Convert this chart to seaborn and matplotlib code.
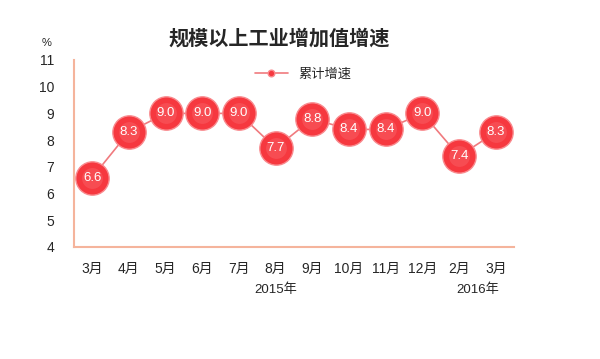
import pandas as pd
import seaborn as sns
import matplotlib.pyplot as plt

# dados
meses = ['3月', '4月', '5月', '6月', '7月', '8月', '9月', '10月', '11月', '12月', '2月', '3月']
valores = [6.6, 8.3, 9.0, 9.0, 9.0, 7.7, 8.8, 8.4, 8.4, 9.0, 7.4, 8.3]
anos = ['2015年', '2016年']

df = pd.DataFrame({'pos': range(len(meses)), 'valor': valores})

sns.set_style('white')
plt.rcParams['font.family'] = ['Liberation Sans', 'Noto Sans CJK SC']

fig = plt.figure(figsize=(6, 3.59), dpi=100)
ax = fig.add_axes([0.123, 0.312, 0.734, 0.521])

sns.lineplot(x='pos', y='valor', data=df, ax=ax, color='#f07a7e', linewidth=1.2,
             marker='o', markersize=24, markerfacecolor='#f6383f',
             markeredgecolor='#f98a8e', markeredgewidth=1.0, label='累计增速')

# brilho no topo das bolas
ax.plot(df['pos'], df['valor'], 'o', markersize=15, color='#f85a60', alpha=0.6,
        markeredgewidth=0, zorder=3)

for i, v in enumerate(valores):
    ax.text(i, v, f'{v:.1f}', color='white', ha='center', va='center', fontsize=9.5, zorder=4)

ax.set_xlim(-0.5, len(meses) - 0.5)
ax.set_ylim(4, 11)
ax.set_yticks(range(4, 12))
ax.set_xticks(range(len(meses)))
ax.set_xticklabels(meses, fontsize=9.5)
ax.tick_params(axis='both', length=0, labelsize=10, pad=11)
ax.tick_params(axis='y', pad=14)
ax.set_xlabel('')
ax.set_ylabel('')

for s in ['top', 'right']:
    ax.spines[s].set_visible(False)
for s in ['left', 'bottom']:
    ax.spines[s].set_color('#f5b49c')
    ax.spines[s].set_linewidth(1.5)

# anos abaixo dos meses
ax.text(5, -0.23, anos[0], transform=ax.get_xaxis_transform(), ha='center', va='center', fontsize=9.5)
ax.text(10.5, -0.23, anos[1], transform=ax.get_xaxis_transform(), ha='center', va='center', fontsize=9.5)

fig.text(0.07, 0.88, '%', ha='left', va='center', fontsize=8)
fig.text(0.465, 0.895, '规模以上工业增加值增速', ha='center', va='center', fontsize=14.5, fontweight='bold',
         family=['Noto Sans CJK SC'])

leg = ax.legend(loc='upper center', bbox_to_anchor=(0.52, 1.02), frameon=False, fontsize=9.5,
                markerscale=0.2, handlelength=2.5)

fig.savefig('out.png', dpi=100)
